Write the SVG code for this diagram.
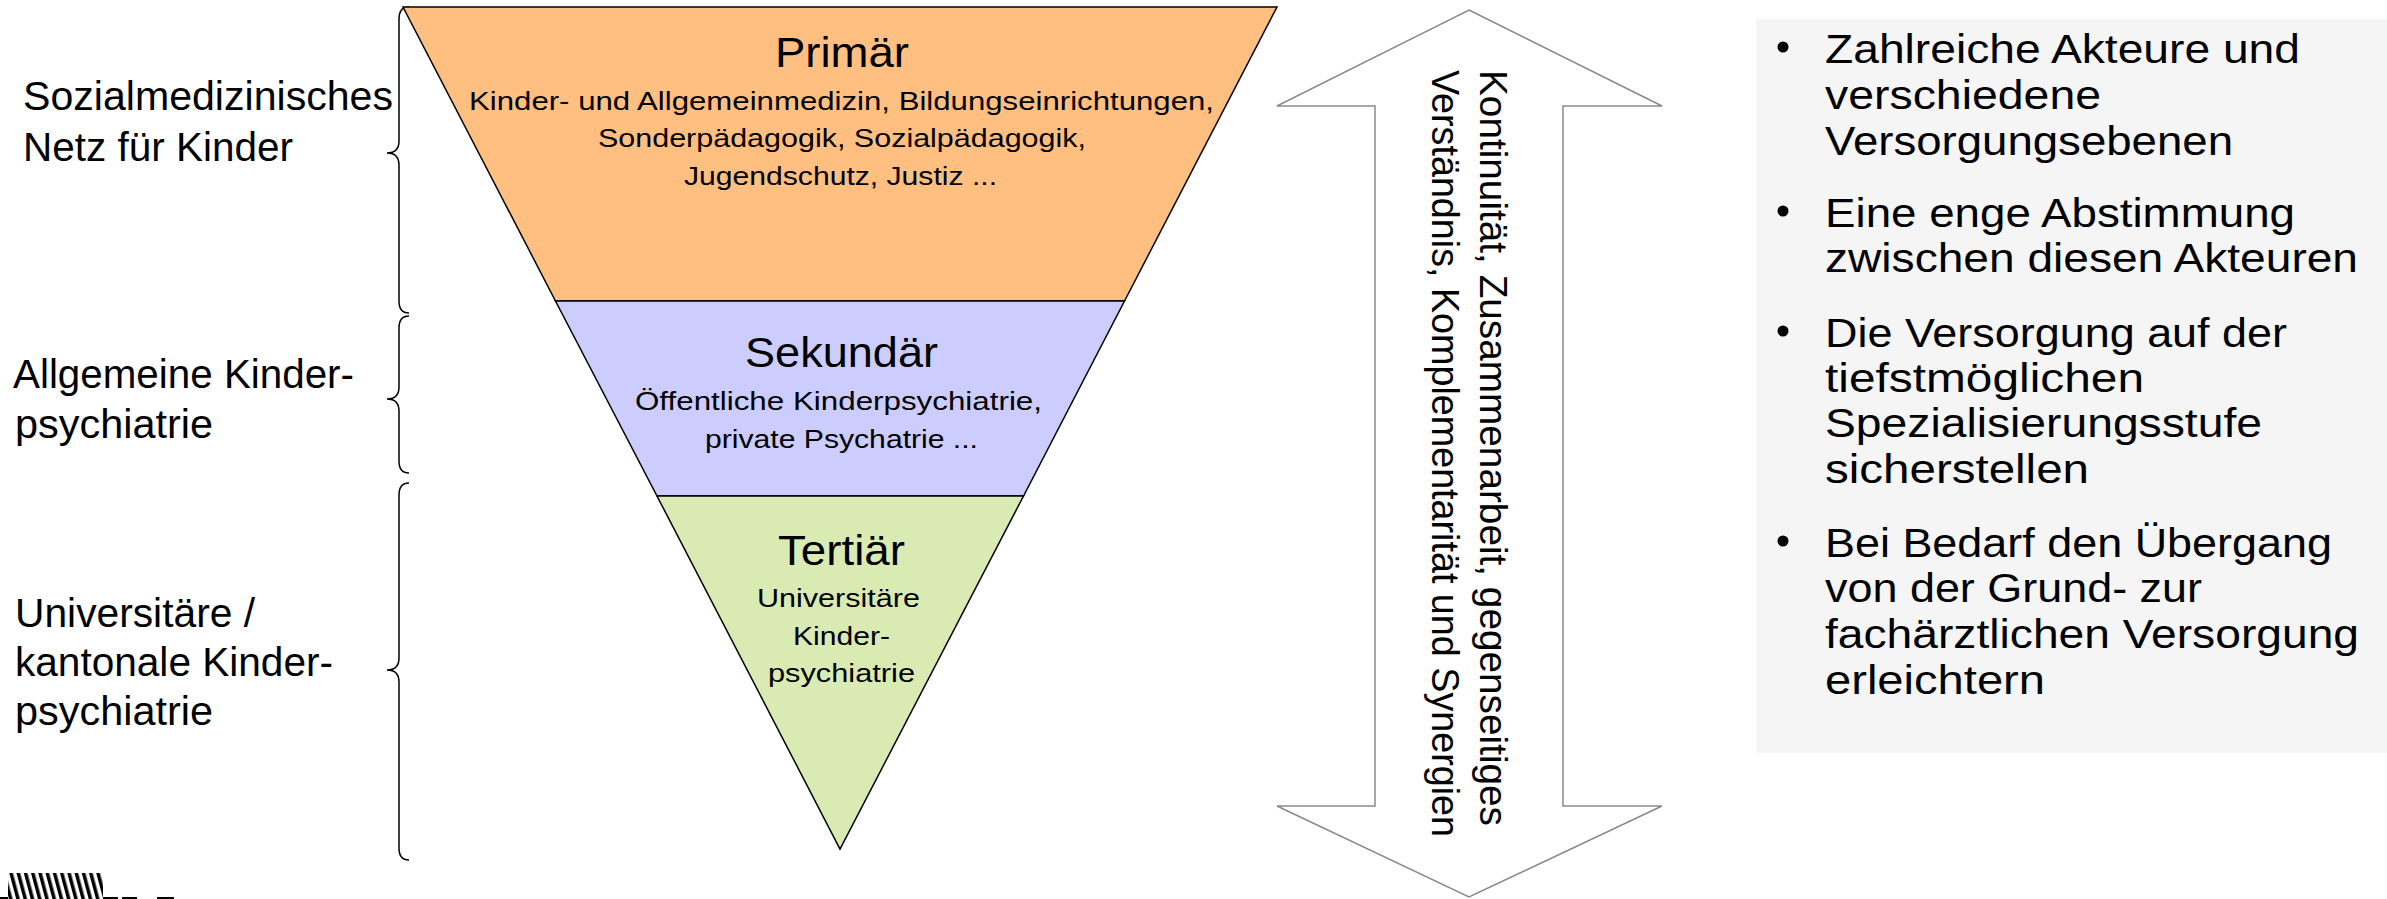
<svg xmlns="http://www.w3.org/2000/svg" width="2387" height="899" viewBox="0 0 2387 899">
  <defs>
    <style>
      .t { font-family: "Liberation Sans", Arial, sans-serif; fill: #000; }
      .lbl { font-size: 40px; }
      .ttl { font-size: 42px; }
      .sub { font-size: 26px; }
      .vt { font-size: 38px; }
      .seg { stroke: #000; stroke-width: 1.5; stroke-linejoin: miter; }
      .brace { fill: none; stroke: #000; stroke-width: 1.5; }
    </style>
    <pattern id="hatch" width="7" height="10" patternUnits="userSpaceOnUse" patternTransform="rotate(-15)">
      <rect x="0" y="0" width="3.5" height="10" fill="#000"/>
    </pattern>
  </defs>

  <rect width="2387" height="899" fill="#fff"/>

  <!-- level labels on the left -->
  <g id="label-primary">
    <text class="t lbl" x="23" y="110" textLength="370" lengthAdjust="spacingAndGlyphs">Sozialmedizinisches</text>
    <text class="t lbl" x="23" y="161" textLength="270" lengthAdjust="spacingAndGlyphs">Netz für Kinder</text>
  </g>
  <g id="label-secondary">
    <text class="t lbl" x="13" y="388" textLength="341" lengthAdjust="spacingAndGlyphs">Allgemeine Kinder-</text>
    <text class="t lbl" x="15" y="438" textLength="198" lengthAdjust="spacingAndGlyphs">psychiatrie</text>
  </g>
  <g id="label-tertiary">
    <text class="t lbl" x="15" y="627" textLength="240" lengthAdjust="spacingAndGlyphs">Universitäre /</text>
    <text class="t lbl" x="15" y="676" textLength="318" lengthAdjust="spacingAndGlyphs">kantonale Kinder-</text>
    <text class="t lbl" x="15" y="725" textLength="198" lengthAdjust="spacingAndGlyphs">psychiatrie</text>
  </g>

  <!-- curly braces tying labels to pyramid levels -->
  <g id="connectors">
    <path class="brace" d="M409 7 Q399 7 399 19 L399 141 Q399 153 387 153 Q399 153 399 165 L399 301 Q399 313 409 313"/>
    <path class="brace" d="M409 316 Q399 316 399 328 L399 387 Q399 399 387 399 Q399 399 399 411 L399 461 Q399 473 409 473"/>
    <path class="brace" d="M409 483 Q399 483 399 495 L399 658 Q399 670 387 670 Q399 670 399 682 L399 848 Q399 860 409 860"/>
  </g>

  <!-- inverted pyramid -->
  <g id="primaer">
    <polygon class="seg" fill="#FFBF80" points="403,7 1277,7 1124.5,301 555.5,301"/>
    <text class="t ttl" x="775" y="67" textLength="134" lengthAdjust="spacingAndGlyphs">Primär</text>
    <text class="t sub" x="469" y="110" textLength="745" lengthAdjust="spacingAndGlyphs">Kinder- und Allgemeinmedizin, Bildungseinrichtungen,</text>
    <text class="t sub" x="598" y="147" textLength="488" lengthAdjust="spacingAndGlyphs">Sonderpädagogik, Sozialpädagogik,</text>
    <text class="t sub" x="684" y="185" textLength="313" lengthAdjust="spacingAndGlyphs">Jugendschutz, Justiz ...</text>
  </g>
  <g id="sekundaer">
    <polygon class="seg" fill="#CCCCFF" points="555.5,301 1124.5,301 1023.5,496 657,496"/>
    <text class="t ttl" x="745" y="367" textLength="193" lengthAdjust="spacingAndGlyphs">Sekundär</text>
    <text class="t sub" x="635" y="410" textLength="407" lengthAdjust="spacingAndGlyphs">Öffentliche Kinderpsychiatrie,</text>
    <text class="t sub" x="705" y="448" textLength="273" lengthAdjust="spacingAndGlyphs">private Psychatrie ...</text>
  </g>
  <g id="tertiaer">
    <polygon class="seg" fill="#D9EAB3" points="657,496 1023.5,496 840,849"/>
    <text class="t ttl" x="778" y="565" textLength="127" lengthAdjust="spacingAndGlyphs">Tertiär</text>
    <text class="t sub" x="757" y="607" textLength="163" lengthAdjust="spacingAndGlyphs">Universitäre</text>
    <text class="t sub" x="793" y="645" textLength="97" lengthAdjust="spacingAndGlyphs">Kinder-</text>
    <text class="t sub" x="768" y="682" textLength="147" lengthAdjust="spacingAndGlyphs">psychiatrie</text>
  </g>

  <!-- double-headed vertical arrow with rotated caption -->
  <g id="arrow">
    <polygon fill="#fff" stroke="#8a8a8a" stroke-width="1.5" points="1469,10 1662,106 1563,106 1563,806 1662,806 1469,897 1277,806 1375,806 1375,106 1277,106"/>
    <text class="t vt" transform="translate(1480,70) rotate(90)" textLength="756" lengthAdjust="spacingAndGlyphs">Kontinuität, Zusammenarbeit, gegenseitiges</text>
    <text class="t vt" transform="translate(1432,70) rotate(90)" textLength="767" lengthAdjust="spacingAndGlyphs">Verständnis, Komplementarität und Synergien</text>
  </g>

  <!-- key points panel -->
  <g id="panel">
    <rect x="1756" y="19" width="640" height="734" fill="#F5F5F5"/>
    <circle cx="1783" cy="47" r="5.5"/>
    <circle cx="1783" cy="211" r="5.5"/>
    <circle cx="1783" cy="331" r="5.5"/>
    <circle cx="1783" cy="541" r="5.5"/>
    <text class="t lbl" x="1825" y="63" textLength="475" lengthAdjust="spacingAndGlyphs">Zahlreiche Akteure und</text>
    <text class="t lbl" x="1825" y="109" textLength="276" lengthAdjust="spacingAndGlyphs">verschiedene</text>
    <text class="t lbl" x="1825" y="155" textLength="408" lengthAdjust="spacingAndGlyphs">Versorgungsebenen</text>
    <text class="t lbl" x="1825" y="227" textLength="470" lengthAdjust="spacingAndGlyphs">Eine enge Abstimmung</text>
    <text class="t lbl" x="1825" y="272" textLength="533" lengthAdjust="spacingAndGlyphs">zwischen diesen Akteuren</text>
    <text class="t lbl" x="1825" y="347" textLength="462" lengthAdjust="spacingAndGlyphs">Die Versorgung auf der</text>
    <text class="t lbl" x="1825" y="392" textLength="319" lengthAdjust="spacingAndGlyphs">tiefstmöglichen</text>
    <text class="t lbl" x="1825" y="437" textLength="437" lengthAdjust="spacingAndGlyphs">Spezialisierungsstufe</text>
    <text class="t lbl" x="1825" y="483" textLength="264" lengthAdjust="spacingAndGlyphs">sicherstellen</text>
    <text class="t lbl" x="1825" y="557" textLength="507" lengthAdjust="spacingAndGlyphs">Bei Bedarf den Übergang</text>
    <text class="t lbl" x="1825" y="602" textLength="377" lengthAdjust="spacingAndGlyphs">von der Grund- zur</text>
    <text class="t lbl" x="1825" y="648" textLength="534" lengthAdjust="spacingAndGlyphs">fachärztlichen Versorgung</text>
    <text class="t lbl" x="1825" y="694" textLength="220" lengthAdjust="spacingAndGlyphs">erleichtern</text>
  </g>

  <!-- cropped logo mark at the lower left -->
  <g id="logo">
    <rect x="8" y="873" width="95" height="26" fill="url(#hatch)"/>
    <rect x="0" y="897" width="8" height="2" fill="#000"/>
    <rect x="103" y="897" width="15" height="2" fill="#000"/>
    <rect x="122" y="897" width="15" height="2" fill="#000"/>
    <rect x="157" y="897" width="17" height="2" fill="#000"/>
  </g>
</svg>
